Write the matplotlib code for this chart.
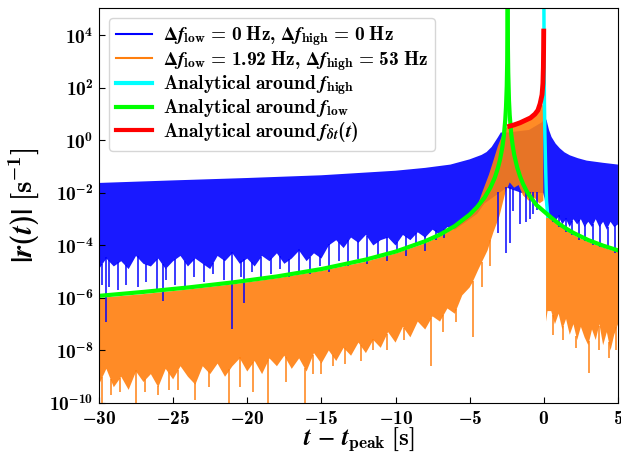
import numpy as np
import matplotlib
matplotlib.use("Agg")
import matplotlib.pyplot as plt
from matplotlib.lines import Line2D

plt.rcParams.update({
    "mathtext.fontset": "custom",
    "mathtext.rm": "cmb10",
    "mathtext.bf": "cmb10",
    "mathtext.it": "STIXGeneral:italic:bold",
    "mathtext.sf": "STIXGeneral:bold",
    "mathtext.fallback": "stix",
})

# --- data ------------------------------------------------------------------
# blue: Delta f = 0 (upper envelope, lower envelope in log10, spikes)
blue_up_t = [-30, -25, -20, -15, -10, -8, -6.3, -5, -4.2, -3.86, -3.52, -3.3, -3.1,
             -2.9, -2.45, -1.0, -0.1, 0.05, 0.19, 0.35, 0.52, 0.8, 1.08, 1.4, 1.76,
             2.3, 2.89, 4.0, 5.0]
blue_up = [0.024, 0.030, 0.037, 0.047, 0.07, 0.09, 0.12, 0.19, 0.28, 0.36, 0.56, 0.87,
           1.3, 2.0, 2.0, 2.5, 5.0, 8.0, 5.8, 2.5, 1.35, 0.75, 0.5, 0.35, 0.27, 0.21,
           0.17, 0.14, 0.12]
blue_low_t = list(np.arange(-30, -4.99, 0.5)) + [
    -4.5, -4.0, -3.5, -3.0, -2.5, -2.0, -1.5, -1.0, -0.5, -0.05, 0.05, 0.2, 0.5, 0.75,
    1.0, 1.25, 1.5, 1.75, 2.0, 2.25, 2.5, 2.75, 3.0, 3.25, 3.5, 3.75, 4.0, 4.25, 4.5,
    4.75, 5.0]
blue_low_log = [
    -4.9, -4.5, -4.8, -4.6, -4.9, -4.4, -4.7, -4.8, -4.5, -4.9, -4.6, -4.4, -4.8, -4.5,
    -4.7, -4.9, -4.4, -4.6, -4.3, -4.7, -4.5, -4.8, -4.4, -4.6, -4.3, -4.7, -4.5, -4.2,
    -4.6, -4.3, -4.5, -4.0, -3.8, -4.1, -3.7, -3.9, -3.6, -4.0, -3.8, -3.7, -4.0, -3.6,
    -3.8, -3.5, -3.7, -3.4, -3.6, -3.3, -3.4, -3.2, -3.0,
    -2.8, -2.4, -2.2, -2.0, -1.8, -1.9, -2.0, -2.0, -2.0, -2.0, -2.2, -2.7, -2.9, -3.1,
    -2.9, -3.2, -3.0, -3.3, -3.0, -3.2, -3.0, -3.3, -3.1, -3.3, -3.0, -3.3, -3.1, -3.4,
    -3.1, -3.3, -3.2]
blue_spike_t = [-29.8, -29.5, -29.3, -28.7, -28.2, -27.4, -26.8, -26.1, -25.7, -25.5,
                -24.9, -24.2, -23.6, -22.9, -22.3, -21.6, -21.0, -20.4, -20.2, -19.7,
                -19.1, -18.4, -17.8, -17.2, -16.5, -15.8, -15.1, -14.5, -13.8, -13.2,
                -12.5, -11.9, -11.2, -10.6, -9.9, -9.3, -8.6, -8.0, -7.3, -6.7,
                -3.07, -2.55, -2.3, -2.08, -1.61, -1.2, -0.94, -0.7, -0.45,
                0.6, 1.0, 1.5, 1.9, 2.4, 2.8, 3.3, 3.8, 4.3, 4.8]
blue_spike_log = [-5.5, -6.9, -5.6, -5.7, -5.5, -5.6, -5.4, -5.7, -6.1, -5.3,
                  -5.5, -5.6, -5.2, -5.4, -5.1, -5.3, -7.2, -5.2, -6.2, -5.0,
                  -5.3, -5.1, -4.9, -5.2, -5.0, -5.1, -4.8, -5.0, -4.6, -4.8,
                  -4.5, -4.7, -4.4, -4.6, -4.2, -4.4, -4.0, -4.2, -3.8, -3.7,
                  -3.54, -4.3, -3.9, -2.7, -3.2, -3.1, -3.0, -2.8, -2.66,
                  -3.1, -3.3, -3.5, -3.6, -3.8, -3.85, -4.0, -4.05, -4.15, -4.3]

# orange: Delta f_low = 1.92 Hz, Delta f_high = 53 Hz (two lobes)
orange_l_up_t = [-30, -27, -24, -21, -18, -15, -12, -10, -8, -7, -6, -5, -4.5, -4.1,
                 -3.7, -3.4, -3.1, -2.8, -2.6, -2.45, -2.0, -1.6, -1.2, -0.9, -0.6,
                 -0.4, -0.25, -0.05]
orange_l_up = [1.0e-6, 1.4e-6, 2.1e-6, 3.3e-6, 5.6e-6, 1.07e-5, 2.4e-5, 4.9e-5, 1.2e-4,
               2.2e-4, 4.7e-4, 1.3e-3, 3.0e-3, 0.0126, 0.05, 0.17, 0.6, 1.6, 2.8, 3.3,
               3.9, 4.7, 6.0, 7.2, 10, 14, 22, 22]
orange_l_low_t = list(np.arange(-30, -4.99, 0.5)) + [
    -4.8, -4.4, -3.8, -3.4, -3.0, -2.6, -2.3, -2.0, -1.7, -1.4, -1.0, -0.6, -0.3, -0.03]
orange_l_low_log = [
    -9.3, -8.7, -9.4, -9.0, -9.5, -8.8, -9.2, -8.9, -9.4, -8.7, -9.1, -8.6, -9.0, -9.3,
    -8.6, -8.9, -8.5, -9.0, -8.6, -8.3, -8.8, -8.4, -8.9, -8.3, -8.6, -8.2, -8.7, -8.3,
    -8.8, -8.1, -8.5, -8.0, -8.4, -7.9, -8.2, -7.7, -8.1, -7.6, -7.9, -7.3, -7.7, -7.1,
    -7.5, -6.9, -7.2, -6.7, -6.9, -6.4, -6.6, -5.9, -5.6,
    -5.4, -4.9, -4.2, -3.5, -2.9, -2.0, -1.6, -1.8, -1.7, -2.1, -2.3, -2.2, -2.4, -2.3]
orange_r_up_t = [0.15, 0.3, 0.6, 1.0, 1.5, 2.0, 2.5, 3.0, 3.5, 4.0, 4.5, 5.0]
orange_r_up = [1.6e-3, 1.3e-3, 9.5e-4, 5.8e-4, 3.7e-4, 2.5e-4, 1.8e-4, 1.35e-4, 1.05e-4,
               8.3e-5, 6.7e-5, 5.5e-5]
orange_r_low_t = [0.15] + list(np.arange(0.25, 5.01, 0.25))
orange_r_low_log = [-6.9, -6.5, -6.5, -7.0, -6.6, -7.2, -6.8, -7.4, -7.0, -7.6, -7.1,
                    -7.5, -7.8, -7.2, -7.6, -7.0, -7.8, -7.3, -8.0, -7.4, -7.0]
orange_spike_t = [-29.8, -29.2, -28.6, -27.5, -26.9, -26.0, -25.3, -24.7, -23.5, -22.6,
                  -21.2, -20.5, -19.6, -18.6, -17.4, -16.1, -15.6, -15.0, -14.2, -13.4,
                  -12.3, -11.5, -10.6, -9.4, -7.6, -6.8, -5.9, -4.8, -4.2, -3.6,
                  0.6, 1.3, 2.2, 3.04, 3.7, 4.4, 4.9]
orange_spike_log = [-10.2, -9.7, -9.6, -10.2, -9.6, -9.7, -9.5, -9.5, -9.9, -9.4,
                    -10.2, -9.4, -9.6, -10.2, -9.2, -10.2, -8.9, -8.9, -8.6, -8.5,
                    -8.4, -8.0, -8.0, -7.6, -8.6, -7.3, -6.9, -7.5, -5.6, -4.8,
                    -7.4, -7.6, -7.9, -8.86, -8.0, -8.3, -8.0]

# analytical curves
cyan_t = [0.005, 0.02, 0.04, 0.07, 0.12, 0.18, 0.27]
cyan_v = [2e5, 1e3, 30, 1.8, 0.1, 5e-3, 1.3e-3]
green_l_t = [-30, -27, -24, -21, -18, -15, -12, -10, -8, -7, -6, -5, -4.5, -4, -3.6,
             -3.3, -3.1, -2.95, -2.8, -2.7, -2.6, -2.55, -2.5, -2.47, -2.452, -2.445]
green_l_v = [1.2e-6, 1.7e-6, 2.5e-6, 3.9e-6, 6.6e-6, 1.26e-5, 2.9e-5, 5.8e-5, 1.45e-4,
             2.6e-4, 5.5e-4, 1.5e-3, 2.9e-3, 6.6e-3, 0.016, 0.039, 0.087, 0.19, 0.54,
             1.4, 6.1, 19, 116, 930, 1.45e4, 2e5]
green_r_t = [-2.435, -2.43, -2.42, -2.4, -2.35, -2.3, -2.2, -2.1, -2.0, -1.8, -1.6,
             -1.4, -1.2, -1.0, -0.5, 0, 0.5, 1, 1.5, 2, 3, 4, 5]
green_r_v = [2e5, 2.5e4, 3.1e3, 390, 34, 9.1, 1.8, 0.64, 0.29, 0.095, 0.042, 0.022,
             0.013, 8.4e-3, 3.5e-3, 2.0e-3, 1.15e-3, 6.8e-4, 4.4e-4, 3.0e-4, 1.6e-4,
             9.8e-5, 6.5e-5]
red_t = [-2.46, -2.0, -1.6, -1.2, -0.9, -0.6, -0.4, -0.25, -0.12, -0.06, -0.03, -0.015,
         -0.005]
red_v = [3.3, 3.9, 4.7, 6.0, 7.2, 10, 14, 25, 55, 150, 600, 3000, 1.8e4]

x_ticks = [-30, -25, -20, -15, -10, -5, 0, 5]
y_exps = [-10, -8, -6, -4, -2, 0, 2, 4]

labels = [r'$\mathbf{\Delta} f_{\mathrm{low}} \,=\, 0\ \mathrm{Hz},\, \mathbf{\Delta} f_{\mathrm{high}} \,=\, 0\ \mathrm{Hz}$',
          r'$\mathbf{\Delta} f_{\mathrm{low}} \,=\, 1.92\ \mathrm{Hz},\, \mathbf{\Delta} f_{\mathrm{high}} \,=\, 53\ \mathrm{Hz}$',
          r'$\mathrm{Analytical\ around}\ f_{\mathrm{high}}$',
          r'$\mathrm{Analytical\ around}\ f_{\mathrm{low}}$',
          r'$\mathrm{Analytical\ around}\ f_{\delta t}(t)$']


def band(ax, up_t, up, low_t, low_log, color):
    xs = np.concatenate([up_t, low_t[::-1]])
    ys = np.concatenate([up, 10 ** np.array(low_log[::-1])])
    ax.fill(xs, ys, color=color, alpha=0.9, lw=0)


def spikes(ax, t, bottom_log, low_t, low_log, color):
    top = 10 ** (np.interp(t, low_t, low_log) + 0.05)
    ax.vlines(t, 10 ** np.array(bottom_log), top, color=color, alpha=0.9, lw=1.2)


fig = plt.figure(figsize=(6.21, 4.58), dpi=100)
ax = fig.add_axes([0.1594, 0.1201, 0.8357, 0.8624])
ax.set_yscale('log')

band(ax, blue_up_t, blue_up, blue_low_t, blue_low_log, 'blue')
spikes(ax, blue_spike_t, blue_spike_log, blue_low_t, blue_low_log, 'blue')

band(ax, orange_l_up_t, orange_l_up, orange_l_low_t, orange_l_low_log, 'C1')
band(ax, orange_r_up_t, orange_r_up, orange_r_low_t, orange_r_low_log, 'C1')
o_low_t = orange_l_low_t + orange_r_low_t
o_low_log = orange_l_low_log + orange_r_low_log
spikes(ax, orange_spike_t, orange_spike_log, o_low_t, o_low_log, 'C1')

ax.plot(cyan_t, cyan_v, color='cyan', lw=2.5)
ax.plot(green_l_t, green_l_v, color='lime', lw=3)
ax.plot(green_r_t, green_r_v, color='lime', lw=3)
ax.plot(red_t, red_v, color='red', lw=3.5, solid_capstyle='butt')

ax.set_xlim(-30, 5)
ax.set_ylim(1e-10, 1.1e5)
ax.set_yticks([10.0 ** e for e in y_exps])
ax.set_yticklabels([r'$10^{%d}$' % e for e in y_exps])
ax.yaxis.set_minor_locator(matplotlib.ticker.NullLocator())
ax.set_xticks(x_ticks)
ax.set_xticklabels([r'$%d$' % v for v in x_ticks])
ax.tick_params(direction='in', length=4, labelsize=14, pad=4)

ax.set_xlabel(r'$t\,-\,t_{\mathrm{peak}}\ [\mathrm{s}]$', fontsize=18, labelpad=-1)
ax.set_ylabel(r'$\mathsf{|}r(t)\mathsf{|}\ [\mathrm{s}^{-1}]$', fontsize=21, labelpad=6)

handles = [Line2D([], [], color='blue', lw=1.5),
           Line2D([], [], color='C1', lw=1.5),
           Line2D([], [], color='cyan', lw=3),
           Line2D([], [], color='lime', lw=3),
           Line2D([], [], color='red', lw=3)]
ax.legend(handles, labels, loc='upper left', fontsize=14, labelspacing=0.02,
          borderpad=0.35, handlelength=1.9, handletextpad=0.55, borderaxespad=0.5)

fig.savefig('out.png', dpi=100)
